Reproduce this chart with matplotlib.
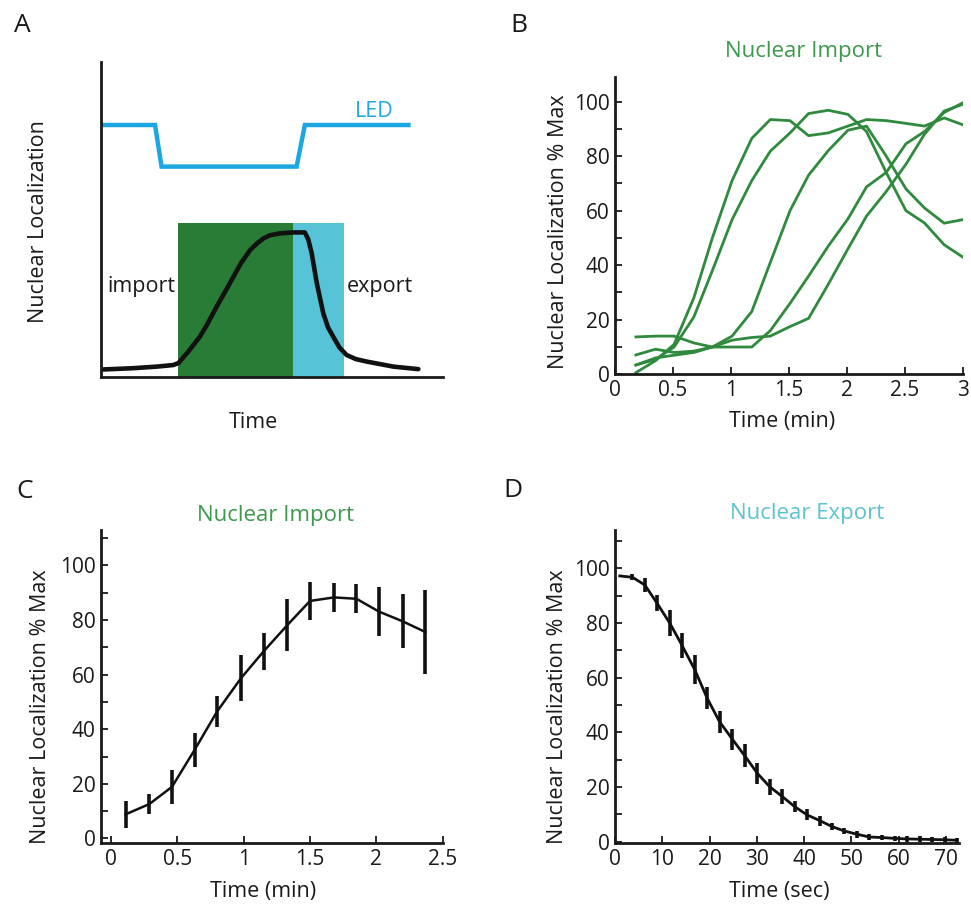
import matplotlib
matplotlib.use("Agg")
import matplotlib.pyplot as plt
from matplotlib.ticker import MultipleLocator

plt.rcParams["font.family"] = ["Open Sans", "DejaVu Sans"]

GREEN = "#2f8a3d"
TITLE_GREEN = "#3b9a4c"
CYAN_TEXT = "#5cc3cf"
LED_BLUE = "#1ca6e2"
IMPORT_FILL = "#287c35"
EXPORT_FILL = "#56c4d6"
INK = "#1a1a1a"

# A: schematic of the optogenetic pulse (arbitrary units)
led_x = [0, 15.8, 17.7, 57.2, 59.6, 89.9]
led_y = [79.9, 79.9, 66.7, 66.7, 79.9, 79.9]
trace_x = [0.7, 9.4, 16.3, 21.1, 22.6, 25.4, 28.9, 31.0, 33.8, 36.3, 38.7, 40.9, 43.6,
           45.6, 47.5, 49.4, 52.3, 56.2, 59.6, 60.6, 61.6, 63.1, 65.0, 66.4, 67.9,
           69.7, 71.8, 74.5, 77.7, 85.5, 92.8]
trace_y = [2.3, 2.7, 3.2, 3.7, 4.3, 7.8, 12.7, 16.5, 22.2, 27.0, 31.7, 36.0, 40.2,
           42.3, 43.9, 44.9, 45.5, 45.8, 45.8, 43.6, 39.2, 29.7, 20.1, 15.6, 12.7,
           9.3, 6.9, 5.6, 4.8, 3.2, 2.4]
import_window = [22.5, 56.2]
export_window = [56.2, 71.1]
window_top = 48.9

# B: single-cell import traces
b_time = [0.18, 0.35, 0.51, 0.68, 0.84, 1.01, 1.18, 1.34, 1.51,
          1.67, 1.84, 2.01, 2.17, 2.34, 2.51, 2.67, 2.84, 3.0]
b_cell1 = [0.6, 5, 11, 28, 50, 71, 86.5, 93.4, 93, 87.5, 88.5, 91, 93.4, 93, 92, 91, 94, 91.5]
b_cell2 = [3.4, 5.5, 10, 21, 38, 56.7, 71, 81.8, 88.5, 95.6, 96.8, 95.3, 89, 74, 60, 55.5, 47.5, 43]
b_cell3 = [7.1, 9.2, 8, 8.5, 10, 14, 23, 41, 60, 73, 82, 89.5, 91, 80, 68, 61, 55.4, 56.7]
b_cell4 = [13.7, 14, 14, 11.5, 10, 10, 10, 16, 26, 36, 47, 57, 68.7, 74, 84.5, 89, 96, 99.5]
b_cell5 = [3.4, 6, 7, 8, 10, 12.5, 13.5, 14, 17.5, 20.5, 33, 46, 58, 67, 77, 88, 96.5, 99]

# C: mean import curve with error bars
c_time = [0.11, 0.29, 0.46, 0.63, 0.80, 0.98, 1.15, 1.33, 1.50, 1.68, 1.85, 2.02, 2.20, 2.37]
c_mean = [8.8, 12.6, 18.9, 32.4, 46.5, 58.7, 68.5, 78.2, 87.0, 88.3, 87.8, 83.1, 79.5, 75.6]
c_err = [5.0, 3.8, 6.3, 6.3, 5.7, 8.4, 6.7, 9.7, 6.9, 5.3, 5.3, 9.0, 9.9, 15.5]

# D: mean export curve with error bars
d_time = [1.0, 3.7, 6.3, 8.9, 11.6, 14.2, 16.9, 19.5, 22.1, 24.8, 27.4, 30.1, 32.7, 35.3,
          38.0, 40.6, 43.3, 45.9, 48.5, 51.2, 53.8, 56.5, 59.1, 61.7, 64.4, 67.0, 69.7, 72.3]
d_mean = [97.2, 96.7, 93.9, 87.2, 79.9, 71.7, 62.8, 52.4, 43.9, 37.5, 31.5, 25.0, 20.1, 16.6,
          12.8, 9.8, 7.7, 5.5, 3.9, 2.7, 1.7, 1.5, 1.2, 1.0, 0.9, 0.8, 0.7, 0.5]
d_err = [0.0, 1.1, 2.6, 2.9, 4.8, 4.7, 5.3, 4.0, 4.0, 3.8, 4.1, 3.8, 3.0, 2.7,
         2.0, 2.0, 1.8, 1.3, 1.2, 1.2, 1.0, 1.0, 1.0, 1.0, 1.0, 1.0, 1.0, 1.0]

TICK_SIZE = 15
LABEL_SIZE = 15.5
TITLE_SIZE = 16


def style_axes(ax):
    for side in ("top", "right"):
        ax.spines[side].set_visible(False)
    for side in ("left", "bottom"):
        ax.spines[side].set_linewidth(2.0)
        ax.spines[side].set_color(INK)
    ax.tick_params(direction="in", length=5, width=1.3, labelsize=TICK_SIZE,
                   pad=4, colors=INK)
    ax.tick_params(which="minor", direction="in", length=5, width=1.3, colors=INK)
    ax.tick_params(axis="x", which="minor", length=0)


W, H = 971, 907
fig = plt.figure(figsize=(W / 100, H / 100), dpi=100)


def px_axes(left, top, right, bottom):
    return fig.add_axes([left / W, 1 - bottom / H, (right - left) / W, (bottom - top) / H])


# ---- A ----
ax_a = px_axes(101, 61.7, 443, 376.7)
ax_a.set_xlim(0, 100)
ax_a.set_ylim(0, 100)
ax_a.axvspan(*import_window, ymax=window_top / 100, color=IMPORT_FILL, lw=0)
ax_a.axvspan(*export_window, ymax=window_top / 100, color=EXPORT_FILL, lw=0)
ax_a.plot(led_x, led_y, color=LED_BLUE, lw=3.2, solid_joinstyle="miter")
ax_a.plot(trace_x, trace_y, color="#111111", lw=3.3, solid_capstyle="round",
          solid_joinstyle="round")
ax_a.text(74.3, 84.3, "LED", color=LED_BLUE, fontsize=LABEL_SIZE, va="center")
ax_a.text(1.8, 28.6, "import", fontsize=LABEL_SIZE, va="center", color=INK)
ax_a.text(71.8, 28.6, "export", fontsize=LABEL_SIZE, va="center", color=INK)
for side in ("top", "right"):
    ax_a.spines[side].set_visible(False)
for side in ("left", "bottom"):
    ax_a.spines[side].set_linewidth(2.0)
    ax_a.spines[side].set_color(INK)
ax_a.set_xticks([])
ax_a.set_yticks([])
fig.text(39 / W, 1 - 221.7 / H, "Nuclear Localization", rotation=90, fontsize=LABEL_SIZE,
         ha="center", va="center", color=INK)
fig.text(253 / W, 1 - 423 / H, "Time", fontsize=LABEL_SIZE, ha="center", va="center",
         color=INK)

# ---- B ----
ax_b = px_axes(615, 77, 962.7, 374.3)
for cell in (b_cell1, b_cell2, b_cell3, b_cell4, b_cell5):
    ax_b.plot(b_time, cell, color=GREEN, lw=2.0)
ax_b.set_xlim(0, 3)
ax_b.set_ylim(0, 109)
ax_b.set_xticks([0, 0.5, 1, 1.5, 2, 2.5, 3])
ax_b.set_xticklabels(["0", "0.5", "1", "1.5", "2", "2.5", "3"])
ax_b.set_yticks([0, 20, 40, 60, 80, 100])
ax_b.yaxis.set_minor_locator(MultipleLocator(10))
style_axes(ax_b)

# ---- C ----
ax_c = px_axes(101, 530, 442.7, 843.3)
ax_c.errorbar(c_time, c_mean, yerr=c_err, color="#111111", lw=1.8, elinewidth=2.6,
              capsize=0)
ax_c.set_xlim(-0.075, 2.5)
ax_c.set_ylim(-1.8, 113)
ax_c.set_xticks([0, 0.5, 1, 1.5, 2, 2.5])
ax_c.set_xticklabels(["0", "0.5", "1", "1.5", "2", "2.5"])
ax_c.set_yticks([0, 20, 40, 60, 80, 100])
ax_c.yaxis.set_minor_locator(MultipleLocator(10))
style_axes(ax_c)

# ---- D ----
ax_d = px_axes(615, 530, 959.3, 843.3)
ax_d.errorbar(d_time, d_mean, yerr=d_err, color="#111111", lw=2.0, elinewidth=2.6,
              capsize=0)
ax_d.set_xlim(0, 72.8)
ax_d.set_ylim(-0.6, 114)
ax_d.set_xticks([0, 10, 20, 30, 40, 50, 60, 70])
ax_d.set_yticks([0, 20, 40, 60, 80, 100])
ax_d.yaxis.set_minor_locator(MultipleLocator(10))
style_axes(ax_d)

# titles and axis labels placed in figure pixels
fig.text(804 / W, 1 - 51 / H, "Nuclear Import", color=TITLE_GREEN, fontsize=TITLE_SIZE,
         ha="center", va="center")
fig.text(276 / W, 1 - 516 / H, "Nuclear Import", color=TITLE_GREEN, fontsize=TITLE_SIZE,
         ha="center", va="center")
fig.text(807.5 / W, 1 - 514 / H, "Nuclear Export", color=CYAN_TEXT, fontsize=TITLE_SIZE,
         ha="center", va="center")

for x, y in ((558, 231.7), (40, 706.7), (557, 706.7)):
    fig.text(x / W, 1 - y / H, "Nuclear Localization % Max", rotation=90,
             fontsize=LABEL_SIZE, ha="center", va="center", color=INK)
for x, y, s in ((782.5, 421, "Time (min)"), (263, 892, "Time (min)"), (779, 892, "Time (sec)")):
    fig.text(x / W, 1 - y / H, s, fontsize=LABEL_SIZE, ha="center", va="center",
             color=INK)

for x, y, s in ((22, 25, "A"), (519, 25, "B"), (25, 491, "C"), (513, 490, "D")):
    fig.text(x / W, 1 - y / H, s, fontsize=19, ha="center", va="center", color=INK)

fig.savefig("out.png", dpi=100)
